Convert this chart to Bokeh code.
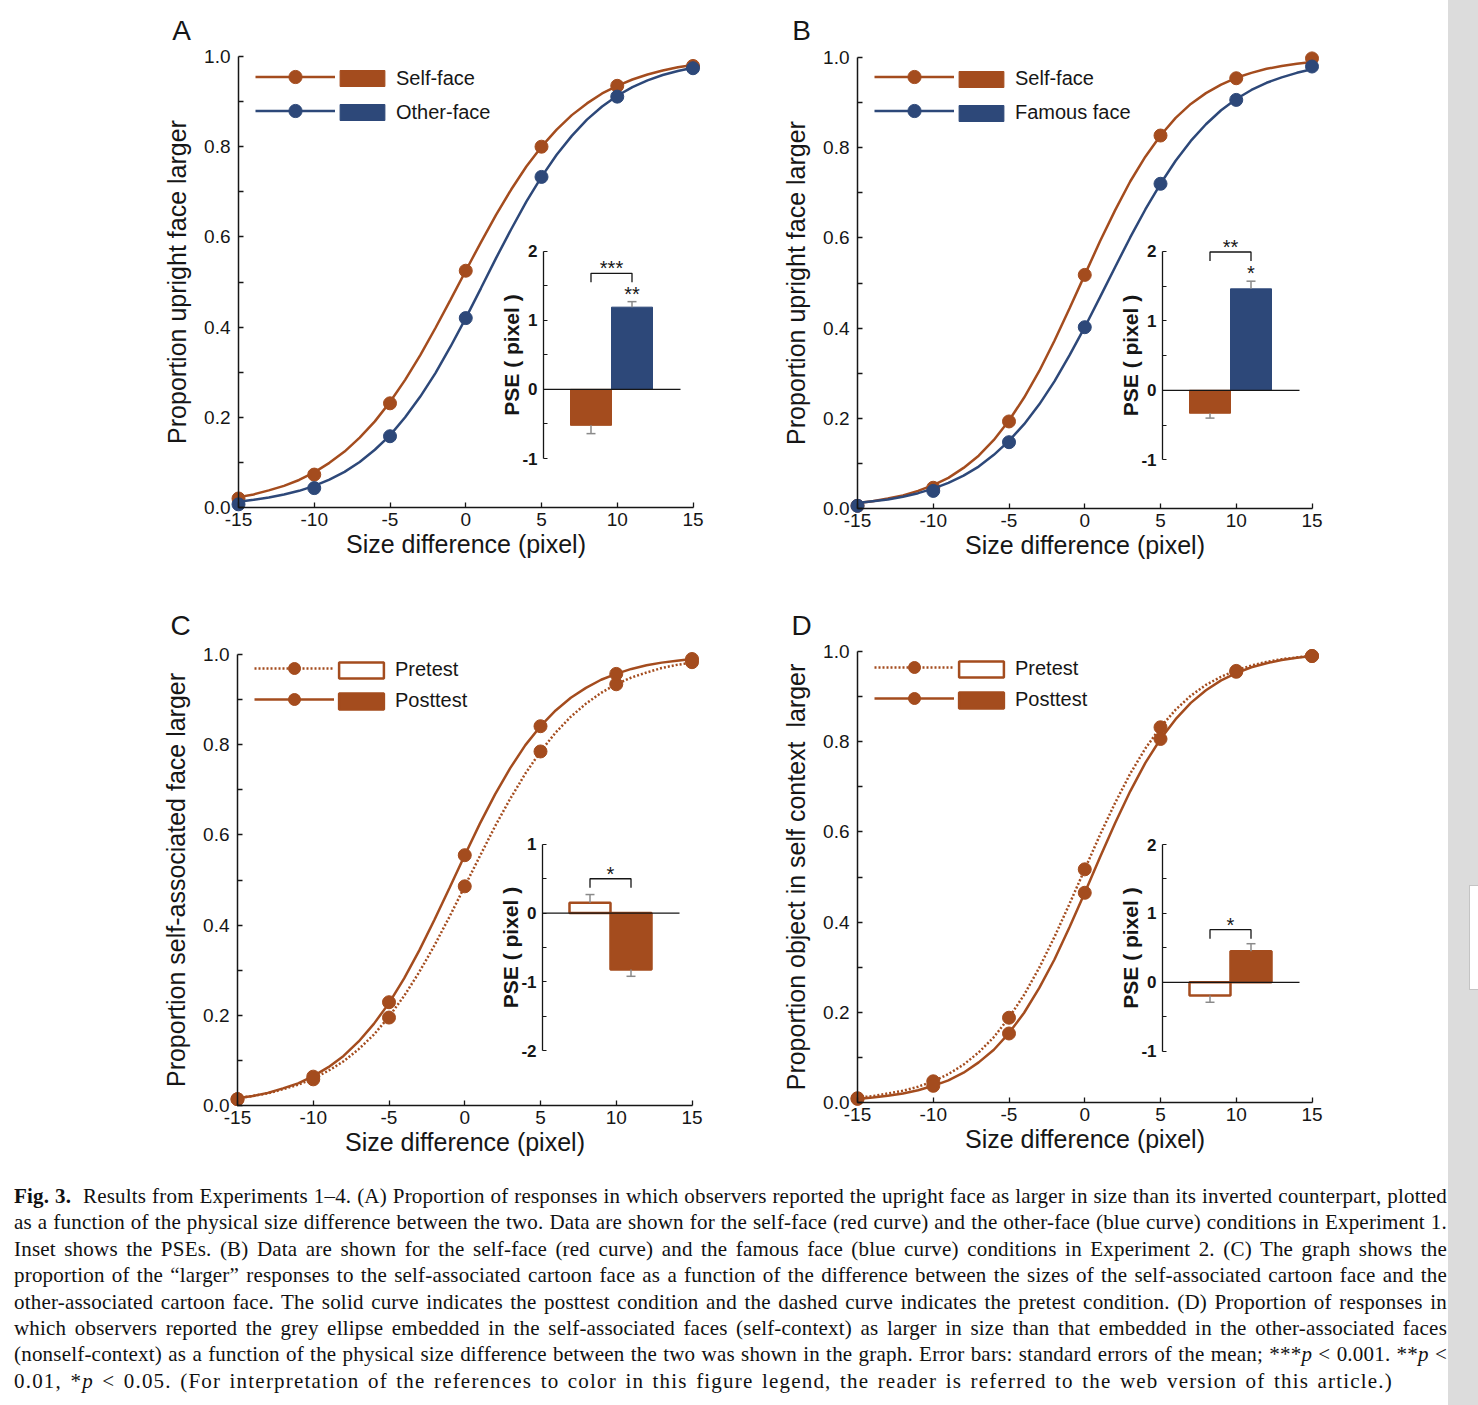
from bokeh.plotting import figure
from bokeh.layouts import row, column
from bokeh.models import (Range1d, LinearAxis, FixedTicker, PrintfTickFormatter,
                          Legend, LegendItem, Label, Div, ColumnDataSource)
from bokeh.embed import file_html
from bokeh.resources import INLINE
from bokeh.core.properties import value

# ------------------------------------------------------------------ data
SIZE_LEVELS = [-15, -10, -5, 0, 5, 10, 15]
SIZE_LABELS = ["-15", "-10", "-5", "0", "5", "10", "15"]
CURVE_X = [-15, -14, -13, -12, -11, -10, -9, -8, -7, -6, -5, -4, -3, -2, -1,
           0, 1, 2, 3, 4, 5, 6, 7, 8, 9, 10, 11, 12, 13, 14, 15]
PROP_TICKS = [0.0, 0.2, 0.4, 0.6, 0.8, 1.0]
PROP_MINOR = [0.1, 0.3, 0.5, 0.7, 0.9]

# Panel A (Experiment 1)
A_SELF_PTS = [0.020, 0.073, 0.231, 0.525, 0.800, 0.935, 0.979]
A_OTHER_PTS = [0.007, 0.043, 0.158, 0.420, 0.733, 0.911, 0.974]
A_SELF_CURVE = [0.023, 0.029, 0.038, 0.048, 0.061, 0.078, 0.099, 0.124, 0.155, 0.191, 0.234,
                0.283, 0.338, 0.398, 0.461, 0.525, 0.588, 0.649, 0.705, 0.756, 0.800, 0.838,
                0.870, 0.896, 0.918, 0.935, 0.949, 0.960, 0.969, 0.976, 0.981]
A_OTHER_CURVE = [0.013, 0.017, 0.022, 0.029, 0.037, 0.048, 0.062, 0.079, 0.101, 0.128, 0.160,
                 0.200, 0.246, 0.298, 0.357, 0.420, 0.486, 0.553, 0.617, 0.678, 0.733, 0.782,
                 0.824, 0.860, 0.889, 0.913, 0.932, 0.947, 0.959, 0.968, 0.975]
A_LABELS = ["Self-face", "Other-face"]
A_PSE = [-0.52, 1.19]
A_PSE_ERR = [0.12, 0.08]
A_PSE_TICKS = [-1, 0, 1, 2]
A_PSE_MINOR = [-0.5, 0.5, 1.5]
A_SIG = ["***", "**"]

# Panel B (Experiment 2)
B_SELF_PTS = [0.006, 0.046, 0.193, 0.518, 0.827, 0.954, 0.998]
B_FAMOUS_PTS = [0.006, 0.039, 0.147, 0.402, 0.720, 0.906, 0.980]
B_SELF_CURVE = [0.012, 0.016, 0.022, 0.029, 0.039, 0.052, 0.068, 0.090, 0.117, 0.152, 0.195,
                0.246, 0.305, 0.372, 0.444, 0.518, 0.592, 0.661, 0.725, 0.780, 0.827, 0.866,
                0.897, 0.921, 0.940, 0.955, 0.966, 0.975, 0.981, 0.986, 0.990]
B_FAMOUS_CURVE = [0.012, 0.016, 0.020, 0.026, 0.034, 0.044, 0.057, 0.073, 0.093, 0.119, 0.150,
                  0.187, 0.231, 0.282, 0.340, 0.402, 0.468, 0.535, 0.601, 0.663, 0.720, 0.771,
                  0.815, 0.852, 0.883, 0.908, 0.928, 0.944, 0.956, 0.966, 0.974]
B_LABELS = ["Self-face", "Famous face"]
B_PSE = [-0.33, 1.46]
B_PSE_ERR = [0.07, 0.11]
B_PSE_TICKS = [-1, 0, 1, 2]
B_PSE_MINOR = [-0.5, 0.5, 1.5]
B_SIG = ["**", "*"]

# Panel C (Experiment 3)
C_PRE_PTS = [0.014, 0.058, 0.195, 0.486, 0.785, 0.934, 0.983]
C_POST_PTS = [0.014, 0.064, 0.229, 0.555, 0.841, 0.957, 0.990]
C_PRE_CURVE = [0.016, 0.021, 0.027, 0.036, 0.046, 0.060, 0.077, 0.098, 0.125, 0.157, 0.197,
               0.243, 0.296, 0.355, 0.419, 0.486, 0.553, 0.619, 0.680, 0.736, 0.785, 0.827,
               0.862, 0.891, 0.915, 0.934, 0.949, 0.960, 0.970, 0.977, 0.982]
C_POST_CURVE = [0.016, 0.021, 0.028, 0.038, 0.049, 0.065, 0.085, 0.110, 0.142, 0.181, 0.227,
                0.282, 0.344, 0.412, 0.483, 0.555, 0.625, 0.690, 0.748, 0.799, 0.841, 0.876,
                0.904, 0.926, 0.944, 0.957, 0.968, 0.976, 0.982, 0.986, 0.990]
C_LABELS = ["Pretest", "Posttest"]
C_PSE = [0.15, -0.82]
C_PSE_ERR = [0.12, 0.10]
C_PSE_TICKS = [-2, -1, 0, 1]
C_PSE_MINOR = [-1.5, -0.5, 0.5]
C_SIG = ["*", ""]

# Panel D (Experiment 4)
D_PRE_PTS = [0.0095, 0.047, 0.188, 0.517, 0.832, 0.957, 0.990]
D_POST_PTS = [0.008, 0.037, 0.153, 0.465, 0.806, 0.955, 0.990]
D_PRE_CURVE = [0.011, 0.014, 0.020, 0.026, 0.035, 0.047, 0.063, 0.084, 0.111, 0.145, 0.188,
               0.239, 0.299, 0.367, 0.441, 0.517, 0.593, 0.664, 0.729, 0.785, 0.832, 0.871,
               0.902, 0.926, 0.944, 0.958, 0.969, 0.977, 0.983, 0.987, 0.991]
D_POST_CURVE = [0.008, 0.011, 0.015, 0.020, 0.027, 0.037, 0.049, 0.066, 0.089, 0.117, 0.154,
                0.199, 0.254, 0.317, 0.389, 0.465, 0.543, 0.619, 0.690, 0.753, 0.806, 0.850,
                0.886, 0.914, 0.936, 0.952, 0.965, 0.974, 0.981, 0.986, 0.990]
D_LABELS = ["Pretest", "Posttest"]
D_PSE = [-0.19, 0.45]
D_PSE_ERR = [0.10, 0.11]
D_PSE_TICKS = [-1, 0, 1, 2]
D_PSE_MINOR = [-0.5, 0.5, 1.5]
D_SIG = ["*", ""]

BAR_X = [1, 2]

CAPTION_LINES = [
    "<b>Fig. 3.</b>&nbsp; Results from Experiments 1\u20134. (A) Proportion of responses in which observers reported the upright face as larger in size than its inverted counterpart, plotted",
    "as a function of the physical size difference between the two. Data are shown for the self-face (red curve) and the other-face (blue curve) conditions in Experiment 1.",
    "Inset shows the PSEs. (B) Data are shown for the self-face (red curve) and the famous face (blue curve) conditions in Experiment 2. (C) The graph shows the",
    "proportion of the \u201clarger\u201d responses to the self-associated cartoon face as a function of the difference between the sizes of the self-associated cartoon face and the",
    "other-associated cartoon face. The solid curve indicates the posttest condition and the dashed curve indicates the pretest condition. (D) Proportion of responses in",
    "which observers reported the grey ellipse embedded in the self-associated faces (self-context) as larger in size than that embedded in the other-associated faces",
    "(nonself-context) as a function of the physical size difference between the two was shown in the graph. Error bars: standard errors of the mean; ***<i>p</i> &lt; 0.001. **<i>p</i> &lt;",
    "0.01, *<i>p</i> &lt; 0.05. (For interpretation of the references to color in this figure legend, the reader is referred to the web version of this article.)",
]

# ------------------------------------------------------------------ style / layout
ORANGE = "#A44C1E"
BLUE = "#2D4879"
ERR_GREY = "#8A8A8A"
INK = "#161616"
SANS = "Liberation Sans"

SX, SY = 15.15, 451.0      # px per x unit, px per proportion unit
INSET_AX = 305             # px from x=-15 to inset axis
BAR_START = 27             # px from inset axis to first bar
BAR_W = 41                 # bar width px
BASE_LEN = 137             # px length of the zero line


def build_panel(letter, ylabel, series, labels, pse, err, bar_fill, bar_line, bar_lw,
                ticks, minor, sig, lay):
    W, H, OX, Y1 = lay["w"], lay["h"], lay["ox"], lay["y1"]
    OY = H - Y1 - SY                      # px from frame bottom to y=0
    x0 = -15 - OX / SX
    y0 = -OY / SY
    ytop = y0 + H / SY
    p = figure(frame_width=W, frame_height=H,
               x_range=Range1d(x0, x0 + W / SX), y_range=Range1d(y0, ytop),
               min_border_left=0, min_border_right=0, min_border_top=0, min_border_bottom=0,
               output_backend="svg", toolbar_location=None, title=None)
    p.grid.visible = False
    p.outline_line_color = None
    p.background_fill_color = "white"
    p.border_fill_color = "white"

    xa = p.xaxis[0]
    ya = p.yaxis[0]
    xa.fixed_location = 0
    ya.fixed_location = -15
    xa.bounds = (-15, 15)
    ya.bounds = (0, 1)
    xa.ticker = FixedTicker(ticks=SIZE_LEVELS, minor_ticks=[])
    xa.major_label_overrides = dict(zip(SIZE_LEVELS, SIZE_LABELS))
    ya.ticker = FixedTicker(ticks=PROP_TICKS, minor_ticks=PROP_MINOR)
    ya.formatter = PrintfTickFormatter(format="%.1f")
    xa.axis_label = "Size difference (pixel)"
    ya.axis_label = ylabel
    for ax in (xa, ya):
        ax.axis_line_color = INK
        ax.axis_line_width = 1.5
        ax.major_tick_line_color = INK
        ax.minor_tick_line_color = INK
        ax.major_tick_line_width = 1.3
        ax.minor_tick_line_width = 1.3
        ax.major_tick_in = 5
        ax.major_tick_out = 0
        ax.minor_tick_in = 5
        ax.minor_tick_out = 0
        ax.major_label_text_font = SANS
        ax.major_label_text_font_size = "19px"
        ax.major_label_text_color = INK
        ax.axis_label_text_font = SANS
        ax.axis_label_text_font_size = "25px"
        ax.axis_label_text_font_style = "normal"
        ax.axis_label_text_color = INK
    xa.major_label_standoff = 5
    xa.axis_label_standoff = 1
    ya.major_label_standoff = 8
    ya.axis_label_standoff = 10

    # psychometric curves and data points
    line_items = []
    for curve, pts, color, dash in series:
        c = p.line(CURVE_X, curve, line_color=color, line_width=2.5, line_dash=dash)
        s = p.scatter(SIZE_LEVELS, pts, size=13, marker="circle",
                      fill_color=color, line_color=color)
        line_items.append([c, s])

    # ---------------- inset (PSE bars)
    u_at = lambda px: 0.5 + (px - (OX + INSET_AX + BAR_START)) / BAR_W
    isy, ioff = lay["isy"], lay["ioff"]
    lo, hi = ticks[0], ticks[-1]
    v_at = lambda py: lo + (py - (OY + ioff)) / isy
    p.extra_x_ranges = {"ix": Range1d(u_at(0), u_at(W))}
    p.extra_y_ranges = {"iy": Range1d(v_at(0), v_at(H))}
    u_axis = u_at(OX + INSET_AX)
    u_end = u_at(OX + INSET_AX + BASE_LEN)

    src = ColumnDataSource(dict(x=BAR_X, top=pse, fill=bar_fill, line=bar_line))
    bars = p.vbar(x="x", top="top", bottom=0, width=1, fill_color="fill", line_color="line",
                  line_width=bar_lw, source=src, x_range_name="ix", y_range_name="iy")

    ends = [v + (e if v >= 0 else -e) for v, e in zip(pse, err)]
    cap = 4.5 / BAR_W
    p.segment(x0=BAR_X, y0=pse, x1=BAR_X, y1=ends, line_color=ERR_GREY, line_width=1.5,
              x_range_name="ix", y_range_name="iy")
    p.segment(x0=[b - cap for b in BAR_X], y0=ends, x1=[b + cap for b in BAR_X], y1=ends,
              line_color=ERR_GREY, line_width=1.5, x_range_name="ix", y_range_name="iy")
    p.segment(x0=[u_axis], y0=[0], x1=[u_end], y1=[0], line_color=INK, line_width=1.3,
              x_range_name="ix", y_range_name="iy")

    # significance bracket
    by = lay["bracket"]
    leg = by - 9.0 / isy
    p.multi_line(xs=[[BAR_X[0], BAR_X[0], BAR_X[1], BAR_X[1]]], ys=[[leg, by, by, leg]],
                 line_color=INK, line_width=1.3, x_range_name="ix", y_range_name="iy")
    star_x = [(BAR_X[0] + BAR_X[1]) / 2]
    star_y = [by + 5.0 / isy]
    star_t = [sig[0]]
    if sig[1]:
        star_x.append(BAR_X[1])
        star_y.append(ends[1] + 8.0 / isy)
        star_t.append(sig[1])
    p.text(x=star_x, y=star_y, text=star_t, text_font=value(SANS), text_font_size="20px",
           text_align="center", text_baseline="alphabetic", text_color=INK,
           x_range_name="ix", y_range_name="iy")

    iax = LinearAxis(x_range_name="ix", y_range_name="iy", fixed_location=u_axis,
                     bounds=(lo, hi), ticker=FixedTicker(ticks=ticks, minor_ticks=minor),
                     axis_label="PSE ( pixel )")
    iax.major_label_overrides = {t: str(t) for t in ticks}
    iax.axis_line_color = INK
    iax.axis_line_width = 1.3
    iax.major_tick_line_color = INK
    iax.minor_tick_line_color = INK
    iax.major_tick_in = 4
    iax.major_tick_out = 0
    iax.minor_tick_in = 4
    iax.minor_tick_out = 0
    iax.major_label_standoff = 6
    iax.major_label_text_font = SANS
    iax.major_label_text_font_size = "17px"
    iax.major_label_text_font_style = "bold"
    iax.major_label_text_color = INK
    iax.axis_label_text_font = SANS
    iax.axis_label_text_font_size = "21px"
    iax.axis_label_text_font_style = "bold"
    iax.axis_label_text_color = INK
    iax.axis_label_standoff = -4
    p.add_layout(iax, "left")

    # ---------------- legends
    pitch = lay["pitch"]
    gh1 = pitch - 1
    r1 = Y1 + lay["d"]                    # first legend row centre, px below frame top
    l1_h = 2 * gh1 + (pitch - gh1)
    leg1 = Legend(items=[LegendItem(label=" ", renderers=rs) for rs in line_items],
                  location=(OX + 17, H - (r1 - gh1 / 2) - l1_h),
                  glyph_width=80, glyph_height=gh1, spacing=pitch - gh1, padding=0, margin=0,
                  label_text_font_size="1px", label_standoff=0, label_width=0, label_height=0,
                  border_line_color=None, background_fill_alpha=0)
    lh = 24
    l2_h = 2 * lh + (pitch - lh)
    leg2 = Legend(items=[LegendItem(label=lab, renderers=[bars], index=i)
                         for i, lab in enumerate(labels)],
                  location=(OX + 96, H - (r1 - 10) - l2_h),
                  glyph_width=56, glyph_height=20, spacing=pitch - lh, padding=0, margin=0,
                  label_height=lh, label_standoff=6, label_text_font=SANS,
                  label_text_font_size="20px", label_text_color=INK,
                  border_line_color=None, background_fill_alpha=0)
    p.add_layout(leg1)
    p.add_layout(leg2)

    # panel letter
    lx, ly = lay["letter"]
    p.add_layout(Label(x=x0 + lx / SX, y=ytop - ly / SY, text=letter,
                       text_font=SANS, text_font_size="28px", text_align="center",
                       text_baseline="middle", text_color=INK))
    return p


LAY_A = dict(w=720, h=597, ox=238, y1=56, isy=69.1, ioff=49.0, bracket=1.68, pitch=34, d=20.0, letter=(181, 30))
LAY_B = dict(w=728, h=597, ox=137, y1=57, isy=69.5, ioff=48.7, bracket=1.99, pitch=34, d=19.5, letter=(81, 30))
LAY_C = dict(w=720, h=586, ox=237, y1=57, isy=68.7, ioff=55.0, bracket=0.50, pitch=31, d=13.8, letter=(180, 28))
LAY_D = dict(w=728, h=586, ox=137, y1=54, isy=68.9, ioff=51.3, bracket=0.764, pitch=31, d=15.5, letter=(81, 28))

pA = build_panel("A", "Proportion upright face larger",
                 [(A_SELF_CURVE, A_SELF_PTS, ORANGE, "solid"), (A_OTHER_CURVE, A_OTHER_PTS, BLUE, "solid")],
                 A_LABELS, A_PSE, A_PSE_ERR, [ORANGE, BLUE], [ORANGE, BLUE], 1,
                 A_PSE_TICKS, A_PSE_MINOR, A_SIG, LAY_A)
pB = build_panel("B", "Proportion upright face larger",
                 [(B_SELF_CURVE, B_SELF_PTS, ORANGE, "solid"), (B_FAMOUS_CURVE, B_FAMOUS_PTS, BLUE, "solid")],
                 B_LABELS, B_PSE, B_PSE_ERR, [ORANGE, BLUE], [ORANGE, BLUE], 1,
                 B_PSE_TICKS, B_PSE_MINOR, B_SIG, LAY_B)
pC = build_panel("C", "Proportion self-associated face larger",
                 [(C_PRE_CURVE, C_PRE_PTS, ORANGE, "2 2"), (C_POST_CURVE, C_POST_PTS, ORANGE, "solid")],
                 C_LABELS, C_PSE, C_PSE_ERR, ["white", ORANGE], [ORANGE, ORANGE], 2.5,
                 C_PSE_TICKS, C_PSE_MINOR, C_SIG, LAY_C)
pD = build_panel("D", "Proportion object in self context\u00a0 larger",
                 [(D_PRE_CURVE, D_PRE_PTS, ORANGE, "2 2"), (D_POST_CURVE, D_POST_PTS, ORANGE, "solid")],
                 D_LABELS, D_PSE, D_PSE_ERR, ["white", ORANGE], [ORANGE, ORANGE], 2.5,
                 D_PSE_TICKS, D_PSE_MINOR, D_SIG, LAY_D)

line_divs = []
for i, ln in enumerate(CAPTION_LINES):
    last = i == len(CAPTION_LINES) - 1
    w = 1379 if last else 1433
    ls = 1.2 if last else 0.2
    line_divs.append('<div style="width:%dpx;letter-spacing:%.1fpx;text-align:justify;'
                     'text-align-last:justify;white-space:nowrap;">%s</div>' % (w, ls, ln))
caption = Div(text='<div style="font-family:\'Liberation Serif\',serif;font-size:21px;'
                   'line-height:26.4px;color:#111;margin-left:14px;">'
                   + "".join(line_divs) + "</div>",
              width=1448, height=222, margin=(0, 0, 0, 0))
strip = Div(text='<div style="position:relative;width:30px;height:1405px;">'
                 '<div style="position:absolute;left:21px;top:885px;width:9px;height:105px;'
                 'background:#ffffff;border:1px solid #c4c4c4;border-right:none;"></div></div>',
            width=30, height=1405, margin=(0, 0, 0, 0),
            styles={"background-color": "#dcdcdc"})

layout = row(column(row(pA, pB), row(pC, pD), caption), strip)

open("out.html", "w").write(file_html(layout, INLINE))
